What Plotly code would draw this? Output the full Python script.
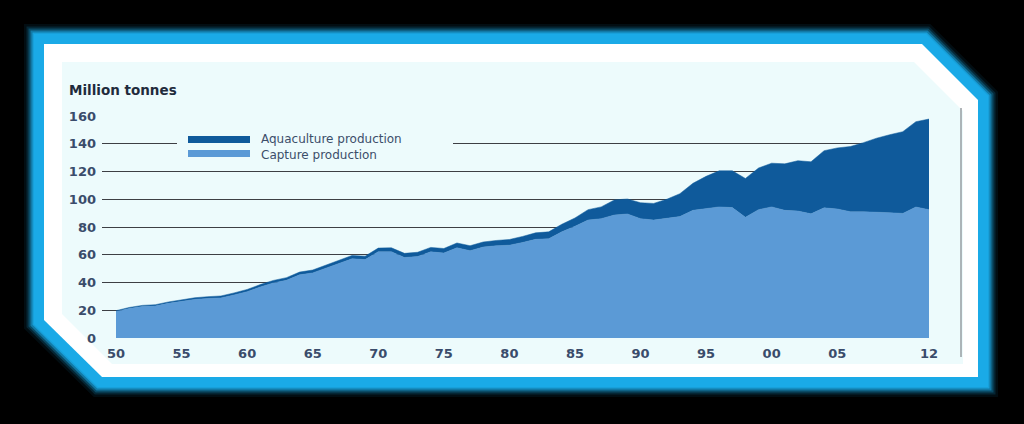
import plotly.graph_objects as go

# ---------------- data (million tonnes) ----------------
years = list(range(1950, 2013))
capture = [19.1, 21.3, 22.7, 23.1, 25.0, 26.4, 27.8, 28.5, 28.9, 31.0,
           33.4, 36.8, 39.7, 41.6, 45.5, 46.9, 50.3, 53.7, 57.1, 56.5,
           62.2, 62.2, 58.0, 58.7, 62.1, 61.2, 65.0, 62.9, 65.5, 66.5,
           66.9, 68.8, 71.1, 71.5, 76.5, 80.5, 85.0, 86.0, 88.6, 89.4,
           86.0, 85.0, 86.0, 87.5, 92.0, 93.0, 94.5, 94.0, 87.0, 92.5,
           94.5, 92.0, 91.5, 89.5, 93.8, 93.0, 91.0, 91.0, 90.8, 90.3,
           89.8, 94.4, 92.5]
total = [19.7, 22.0, 23.5, 24.0, 26.0, 27.5, 29.0, 29.8, 30.3, 32.5,
         35.0, 38.5, 41.5, 43.5, 47.5, 49.0, 52.5, 56.0, 59.5, 59.0,
         64.8, 65.0, 61.0, 61.8, 65.3, 64.5, 68.5, 66.5, 69.2, 70.3,
         71.0, 73.2, 75.8, 76.5, 82.0, 86.5, 92.5, 94.5, 99.5, 100.2,
         97.5, 97.0, 100.0, 104.0, 111.5, 116.5, 120.5, 120.5, 115.0, 122.5,
         126.0, 125.5, 127.8, 127.0, 135.0, 137.0, 138.0, 140.8, 144.0, 146.5,
         148.7, 155.9, 157.8]
aquaculture = [round(t - c, 2) for t, c in zip(total, capture)]

x_tick_vals = [1950, 1955, 1960, 1965, 1970, 1975, 1980, 1985, 1990, 1995, 2000, 2005, 2012]
x_tick_text = ["50", "55", "60", "65", "70", "75", "80", "85", "90", "95", "00", "05", "12"]
y_tick_vals = [0, 20, 40, 60, 80, 100, 120, 140, 160]

series_names = ["Aquaculture production", "Capture production"]

# ---------------- layout geometry ----------------
W, H = 1024, 424
L, R, T, B = 102, 95, 116, 86
PW, PH = W - L - R, H - T - B

def px(x):
    return (x - L) / PW

def py(y):
    return (H - B - y) / PH

def poly(points):
    return "M " + " L ".join(f"{px(a):.5f},{py(b):.5f}" for a, b in points) + " Z"

CAP_COL = "#5b9ad6"
AQ_COL = "#0f5a9b"
INNER = "#edfbfc"
TXT = "#3a4c6b"
FONT = "DejaVu Sans"

fig = go.Figure()
fig.add_trace(go.Scatter(x=years, y=capture, name=series_names[1], stackgroup="one",
                         mode="lines", line=dict(width=0.5, color=CAP_COL),
                         fillcolor=CAP_COL, showlegend=False, hoverinfo="x+y"))
fig.add_trace(go.Scatter(x=years, y=aquaculture, name=series_names[0], stackgroup="one",
                         mode="lines", line=dict(width=0.5, color=AQ_COL),
                         fillcolor=AQ_COL, showlegend=False, hoverinfo="x+y"))

outer = [(44, 44), (922, 44), (978, 100), (978, 377), (102, 377), (44, 320)]
inner = [(62, 62), (914, 62), (963, 111), (963, 364), (112, 364), (62, 314)]

shapes = []
# soft cyan glow
for w, op in [(40, 0.08), (35, 0.16), (31, 0.28), (27, 0.5), (23, 0.8), (20, 1.0)]:
    shapes.append(dict(type="path", xref="paper", yref="paper", path=poly(outer),
                       line=dict(color="#1aaae7", width=w), fillcolor="rgba(0,0,0,0)",
                       opacity=op, layer="below"))
shapes.append(dict(type="path", xref="paper", yref="paper", path=poly(outer),
                   line=dict(color="#ffffff", width=0), fillcolor="#ffffff", layer="below"))
shapes.append(dict(type="path", xref="paper", yref="paper", path=poly(inner),
                   line=dict(color=INNER, width=0), fillcolor=INNER, layer="below"))
# right vertical rule
shapes.append(dict(type="line", xref="paper", yref="paper", x0=px(961), x1=px(961),
                   y0=py(108), y1=py(357), line=dict(color="#6b6f75", width=1), layer="below"))
# gap in the 140 gridline behind the legend
shapes.append(dict(type="rect", xref="paper", yref="paper", x0=px(177), x1=px(453),
                   y0=py(132), y1=py(162), line=dict(width=0), fillcolor=INNER, layer="above"))
# legend swatches
shapes.append(dict(type="rect", xref="paper", yref="paper", x0=px(188), x1=px(250),
                   y0=py(143), y1=py(136), line=dict(width=0), fillcolor=AQ_COL, layer="above"))
shapes.append(dict(type="rect", xref="paper", yref="paper", x0=px(188), x1=px(250),
                   y0=py(157), y1=py(150), line=dict(width=0), fillcolor=CAP_COL, layer="above"))

annotations = [
    dict(text="<b>Million tonnes</b>", xref="paper", yref="paper", x=px(67), y=py(90),
         xanchor="left", yanchor="middle", showarrow=False,
         font=dict(family=FONT, size=13.5, color="#1f2b3c")),
    dict(text=series_names[0], xref="paper", yref="paper", x=px(259), y=py(139),
         xanchor="left", yanchor="middle", showarrow=False,
         font=dict(family=FONT, size=12, color="#3c4e6a")),
    dict(text=series_names[1], xref="paper", yref="paper", x=px(259), y=py(154.5),
         xanchor="left", yanchor="middle", showarrow=False,
         font=dict(family=FONT, size=12, color="#3c4e6a")),
]

fig.update_layout(
    width=W, height=H,
    margin=dict(l=L, r=R, t=T, b=B, pad=0),
    paper_bgcolor="#000000",
    plot_bgcolor="rgba(0,0,0,0)",
    shapes=shapes,
    annotations=annotations,
    showlegend=False,
    xaxis=dict(range=[1950 - 14 / 13.1, 2012], tickvals=x_tick_vals, ticktext=x_tick_text,
               showgrid=False, zeroline=False, showline=False, ticks="",
               ticklabelstandoff=6,
               tickfont=dict(family=FONT, size=13, color=TXT, weight=700)),
    yaxis=dict(range=[0, 160], tickvals=y_tick_vals, showgrid=True, gridcolor="#3d3f44",
               gridwidth=1.1, zeroline=False, showline=False, ticks="",
               ticklabelstandoff=5,
               tickfont=dict(family=FONT, size=13, color=TXT, weight=700)),
)

fig.write_html("out.html")
